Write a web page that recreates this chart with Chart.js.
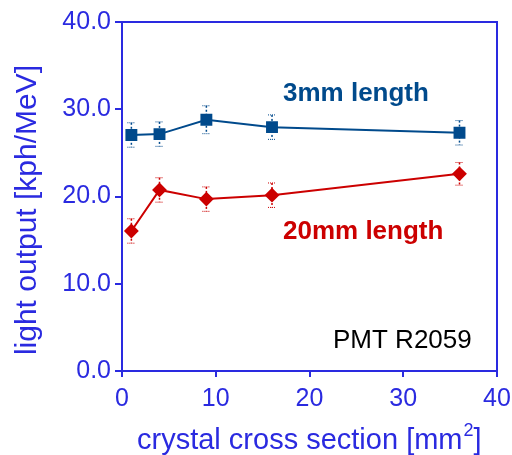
<!DOCTYPE html>
<html lang="en">
<head>
    <meta charset="UTF-8">
    <title>Light output</title>
    <script src="https://cdn.jsdelivr.net/npm/chart.js@4.4.1/dist/chart.umd.min.js"></script>
    <style>
        html, body { margin: 0; padding: 0; background: white; }
        #wrap { width: 512px; height: 455px; }
    </style>
</head>
<body>
    <div id="wrap"><canvas id="myChart" width="512" height="455"></canvas></div>
    <script>
        // data
        const crossSection = [1, 4, 9, 16, 36];
        const len3mm = [27.05, 27.15, 28.8, 27.95, 27.3];
        const len3mmErr = [1.4, 1.4, 1.6, 1.4, 1.4];
        const len20mm = [16.05, 20.75, 19.7, 20.15, 22.6];
        const len20mmErr = [1.4, 1.4, 1.4, 1.4, 1.3];
        const yTicks = [0, 10, 20, 30, 40];
        const xTicks = [0, 10, 20, 30, 40];

        const axisColor = "#2a2ae0";
        const blue = "#004a8c";
        const red = "#cc0000";
        const fontName = "'Liberation Sans', Arial, sans-serif";

        const errs = [len3mmErr, len20mmErr];

        const errorBars = {
            id: "errorBars",
            beforeDatasetsDraw(chart) {
                const ctx = chart.ctx;
                const ys = chart.scales.y;
                chart.data.datasets.forEach((ds, i) => {
                    const meta = chart.getDatasetMeta(i);
                    ctx.save();
                    ctx.strokeStyle = ds.borderColor;
                    meta.data.forEach((pt, j) => {
                        const v = ds.data[j].y;
                        const top = ys.getPixelForValue(v + errs[i][j]);
                        const bot = ys.getPixelForValue(v - errs[i][j]);
                        ctx.setLineDash([2, 2]);
                        ctx.lineWidth = 1.5;
                        ctx.beginPath();
                        ctx.moveTo(pt.x, top);
                        ctx.lineTo(pt.x, bot);
                        ctx.stroke();
                        ctx.setLineDash([1, 1]);
                        ctx.lineWidth = 1;
                        ctx.beginPath();
                        ctx.moveTo(pt.x - 4, top);
                        ctx.lineTo(pt.x + 4, top);
                        ctx.moveTo(pt.x - 4, bot);
                        ctx.lineTo(pt.x + 4, bot);
                        ctx.stroke();
                    });
                    ctx.restore();
                });
            }
        };

        const frameAndText = {
            id: "frameAndText",
            afterDraw(chart) {
                const ctx = chart.ctx;
                const a = chart.chartArea;
                ctx.save();
                ctx.strokeStyle = axisColor;
                ctx.lineWidth = 2;
                ctx.strokeRect(a.left, a.top, a.right - a.left, a.bottom - a.top);
                ctx.textBaseline = "middle";
                ctx.textAlign = "left";
                ctx.font = "bold 26px " + fontName;
                ctx.fillStyle = blue;
                ctx.fillText("3mm length", 283, 94);
                ctx.fillStyle = red;
                ctx.fillText("20mm length", 283, 232);
                ctx.font = "26px " + fontName;
                ctx.fillStyle = "#000000";
                ctx.fillText("PMT R2059", 333, 341);

                // x axis title with superscript
                ctx.fillStyle = axisColor;
                ctx.font = "29px " + fontName;
                const t1 = "crystal cross section [mm";
                let x = 137;
                ctx.fillText(t1, x, 441);
                x += ctx.measureText(t1).width;
                ctx.font = "18px " + fontName;
                ctx.fillText("2", x + 1, 431);
                x += ctx.measureText("2").width + 1;
                ctx.font = "29px " + fontName;
                ctx.fillText("]", x, 441);

                // y axis title
                ctx.translate(28, 210);
                ctx.rotate(-Math.PI / 2);
                ctx.textAlign = "center";
                ctx.font = "30px " + fontName;
                ctx.fillText("light output [kph/MeV]", 0, 0);
                ctx.restore();
            }
        };

        function toPoints(xs, ys) {
            return xs.map((x, i) => ({x: x, y: ys[i]}));
        }

        new Chart("myChart", {
            type: "line",
            data: {
                datasets: [{
                    data: toPoints(crossSection, len3mm),
                    borderColor: blue,
                    backgroundColor: blue,
                    borderWidth: 2,
                    pointStyle: "rect",
                    pointRadius: 7,
                    pointHoverRadius: 7,
                    tension: 0
                }, {
                    data: toPoints(crossSection, len20mm),
                    borderColor: red,
                    backgroundColor: red,
                    borderWidth: 2,
                    pointStyle: "rectRot",
                    pointRadius: 6,
                    pointHoverRadius: 6,
                    tension: 0
                }]
            },
            options: {
                responsive: false,
                animation: false,
                layout: {padding: {top: 22, right: 15, left: 0, bottom: 0}},
                plugins: {legend: {display: false}, tooltip: {enabled: false}},
                scales: {
                    x: {
                        type: "linear",
                        min: 0, max: 40,
                        afterBuildTicks: s => { s.ticks = xTicks.map(v => ({value: v})); },
                        afterFit: s => { s.height = 84; s.paddingRight = 0; s.paddingLeft = 0; },
                        border: {color: axisColor, width: 2},
                        grid: {drawOnChartArea: false, color: axisColor, tickLength: 6, lineWidth: 2},
                        ticks: {color: axisColor, font: {family: fontName, size: 25}, padding: 7, maxRotation: 0},
                        title: {display: false}
                    },
                    y: {
                        type: "linear",
                        min: 0, max: 40,
                        afterBuildTicks: s => { s.ticks = yTicks.map(v => ({value: v})); },
                        afterFit: s => { s.width = 122; s.paddingTop = 0; s.paddingBottom = 0; },
                        border: {color: axisColor, width: 2},
                        grid: {drawOnChartArea: false, color: axisColor, tickLength: 7, lineWidth: 2},
                        ticks: {color: axisColor, font: {family: fontName, size: 25}, padding: 4,
                                callback: v => v.toFixed(1)},
                        title: {display: false}
                    }
                }
            },
            plugins: [errorBars, frameAndText]
        });
    </script>
</body>
</html>
